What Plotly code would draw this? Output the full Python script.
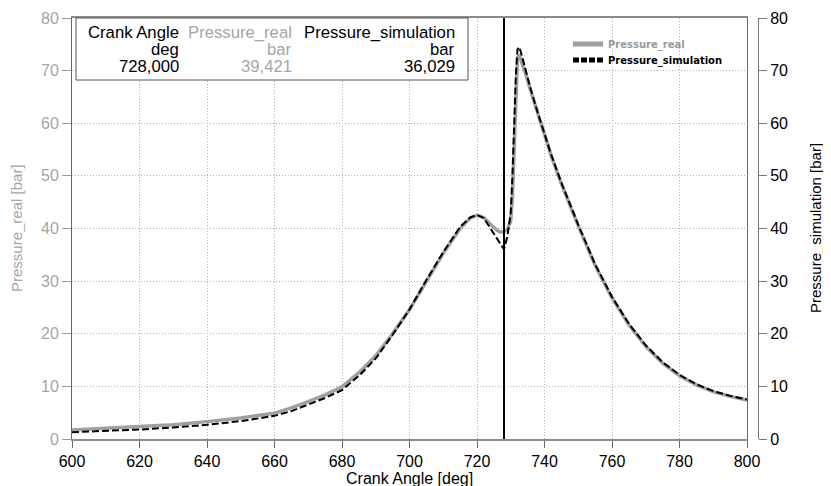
import plotly.graph_objects as go

# ---------------- data ----------------
crank_angle = [600, 610, 620, 630, 640, 650, 660, 665, 670, 675, 680, 685, 690, 695,
               700, 705, 710, 715, 718, 720, 722, 724, 726, 727, 728, 729, 730,
               730.5, 731, 731.5, 732, 732.5, 733, 734, 736, 738, 740, 742, 745,
               750, 755, 760, 765, 770, 775, 780, 785, 790, 795, 800]
pressure_real = [1.7, 2.0, 2.3, 2.7, 3.3, 4.0, 4.9, 5.9, 7.1, 8.4, 9.9, 12.6, 15.8, 20.0,
                 24.6, 30.0, 35.3, 40.0, 42.0, 42.5, 42.1, 40.8, 39.6, 39.3, 39.421, 39.8, 41.5,
                 46.0, 56.0, 66.0, 72.5, 73.0, 72.2, 70.2, 66.0, 61.8, 57.8, 53.8, 48.5,
                 40.5, 33.0, 26.8, 21.7, 17.6, 14.4, 12.0, 10.3, 9.0, 8.1, 7.4]
pressure_sim = [1.3, 1.5, 1.8, 2.2, 2.7, 3.4, 4.4, 5.3, 6.5, 7.8, 9.3, 12.0, 15.3, 19.8,
                24.6, 30.2, 35.5, 40.3, 42.1, 42.6, 42.0, 40.0, 38.0, 36.8, 36.029, 38.5, 43.0,
                50.0, 60.0, 69.0, 74.0, 74.5, 73.5, 71.0, 66.3, 62.0, 58.0, 54.0, 48.7,
                40.7, 33.2, 27.0, 21.9, 17.8, 14.6, 12.2, 10.4, 9.1, 8.2, 7.5]
series_names = ["Pressure_real", "Pressure_simulation"]
units = ["deg", "bar", "bar"]
cursor_angle = 728.0
cursor_values = [39.421, 36.029]
x_ticks = [600, 620, 640, 660, 680, 700, 720, 740, 760, 780, 800]
y_ticks = [0, 10, 20, 30, 40, 50, 60, 70, 80]

# ---------------- geometry helpers ----------------
OFF = 8                      # default page body margin
W, H = 823, 478
ML, MT, MB, MR = 64, 10, 47, 60
PW, PH = W - ML - MR, H - MT - MB
def px(x):                   # page pixel -> paper fraction
    return (x - OFF - ML) / PW
def py(y):
    return (H - MB - (y - OFF)) / PH

FONT = "Liberation Sans, Arial, sans-serif"
GRAY = "#a6a6a6"
LEGFONT = dict(family="DejaVu Sans, sans-serif", size=10, color="black", weight="bold")

fig = go.Figure()
fig.add_trace(go.Scatter(
    x=crank_angle, y=pressure_real, mode="lines", name=series_names[0], showlegend=False,
    line=dict(color="#a0a0a0", width=3.5), yaxis="y"))
fig.add_trace(go.Scatter(
    x=crank_angle, y=pressure_sim, mode="lines", name=series_names[1], showlegend=False,
    line=dict(color="black", width=2, dash="7px,3px"), yaxis="y2"))
# legend entries (thicker sample lines, as in the reference)
fig.add_trace(go.Scatter(
    x=[None], y=[None], mode="lines", legend="legend",
    name="<span style='color:#9a9a9a'>" + series_names[0] + "</span>",
    line=dict(color="#a0a0a0", width=5)))
fig.add_trace(go.Scatter(
    x=[None], y=[None], mode="lines", legend="legend2",
    name=series_names[1],
    line=dict(color="black", width=5, dash="6px,2px")))

fig.add_shape(type="line", xref="x", yref="paper", x0=cursor_angle, x1=cursor_angle,
              y0=0, y1=1, line=dict(color="black", width=2))

# table box
fig.add_shape(type="rect", xref="paper", yref="paper", x0=px(76), x1=px(468),
              y0=py(80), y1=py(18), line=dict(color="#555555", width=1),
              fillcolor="white", layer="above")

def fmt(v):
    return f"{v:,.3f}".replace(",", " ").replace(".", ",").replace(" ", ".")

cols = [("Crank Angle", units[0], fmt(cursor_angle), "black", 181),
        (series_names[0], units[1], fmt(cursor_values[0]), GRAY, 294),
        (series_names[1], units[2], fmt(cursor_values[1]), "black", 457)]
for title, unit, val, col, xr in cols:
    for txt, yy in zip([title, unit, val], [32, 49, 66]):
        fig.add_annotation(x=px(xr), y=py(yy), xref="paper", yref="paper",
                           text=txt, showarrow=False, xanchor="right", yanchor="middle",
                           font=dict(family=FONT, size=16.7, color=col))

# axis titles
fig.add_annotation(x=px(409.5), y=py(478), xref="paper", yref="paper",
                   text="Crank Angle [deg]", showarrow=False, xanchor="center", yanchor="middle",
                   font=dict(family=FONT, size=16, color="black"))
fig.add_annotation(x=px(16), y=py(228), xref="paper", yref="paper",
                   text="Pressure_real [bar]", showarrow=False, textangle=-90,
                   xanchor="center", yanchor="middle",
                   font=dict(family=FONT, size=15, color=GRAY))
fig.add_annotation(x=px(815), y=py(228), xref="paper", yref="paper",
                   text="Pressure_simulation [bar]", showarrow=False, textangle=-90,
                   xanchor="center", yanchor="middle",
                   font=dict(family=FONT, size=15, color="black"))

GRID = dict(showgrid=True, gridcolor="#b4b4b4", griddash="1px,2px", gridwidth=1)

fig.update_layout(
    width=W, height=H,
    margin=dict(l=ML, r=MR, t=MT, b=MB, autoexpand=False),
    paper_bgcolor="white", plot_bgcolor="white",
    font=dict(family=FONT, size=16, color="black"),
    showlegend=True,
    legend=dict(x=px(568), y=py(44), xanchor="left", yanchor="middle",
                bgcolor="rgba(0,0,0,0)", borderwidth=0, font=LEGFONT),
    legend2=dict(x=px(568), y=py(60), xanchor="left", yanchor="middle",
                 bgcolor="rgba(0,0,0,0)", borderwidth=0, font=LEGFONT),
    xaxis=dict(range=[600, 800], domain=[0, px(747)], tickvals=x_ticks, **GRID,
               showline=True, linecolor="#8c8c8c", linewidth=2, mirror=True,
               ticks="outside", ticklen=7, tickcolor="#666666",
               tickfont=dict(family=FONT, size=16, color="black"), zeroline=False),
    yaxis=dict(range=[0, 80], tickvals=y_ticks, **GRID,
               showline=True, linecolor="#666666", linewidth=1, mirror=True,
               ticks="outside", ticklen=9, tickcolor="#999999",
               tickfont=dict(family=FONT, size=16, color=GRAY), zeroline=False),
    yaxis2=dict(range=[0, 80], tickvals=y_ticks, overlaying="y", side="right",
                anchor="free", position=px(758),
                showgrid=False, showline=True, linecolor="#777777", linewidth=1,
                ticks="outside", ticklen=8, tickcolor="#777777",
                tickfont=dict(family=FONT, size=16, color="black"), zeroline=False),
)

fig.write_html("out.html")
